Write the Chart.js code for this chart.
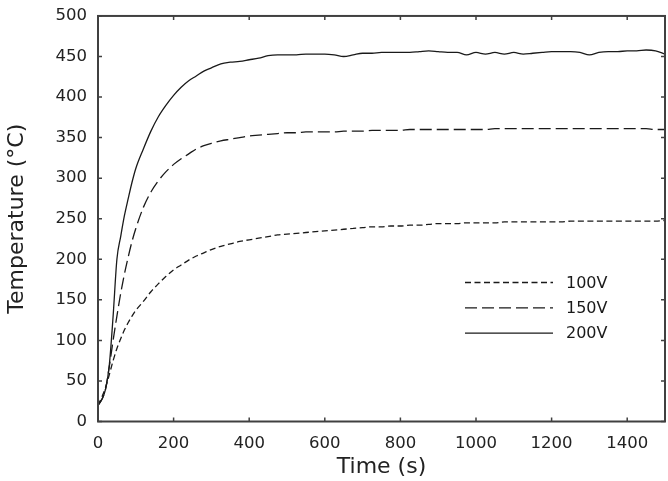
<!DOCTYPE html>
<html>
<head>
<meta charset="utf-8">
<script src="https://cdn.jsdelivr.net/npm/chart.js@4.4.1/dist/chart.umd.min.js"></script>
<style>
  html, body { margin: 0; padding: 0; background: #fff; }
  #caixa { width: 668px; height: 481px; }
</style>
</head>
<body>
<div id="caixa"><canvas id="graficoTemp"></canvas></div>
<script>
// tempo (s)
const tempos = [0, 10, 20, 30, 40, 50, 60, 70, 80, 90, 100,
  120, 140, 160, 180, 200, 220, 240, 260, 280, 300,
  325, 350, 375, 400, 425, 450, 475, 500, 525, 550, 575, 600,
  625, 650, 675, 700, 725, 750, 775, 800, 825, 850, 875, 900,
  925, 950, 975, 1000, 1025, 1050, 1075, 1100, 1125, 1150, 1175, 1200,
  1225, 1250, 1275, 1300, 1325, 1350, 1375, 1400, 1425, 1450, 1475, 1500];

// temperatura (°C) por tensão
const temp100V = [20, 30, 42, 58, 75, 90, 102, 113, 122, 130, 137,
  148, 160, 170, 179, 187, 193, 199, 204, 208, 212,
  216, 219, 222, 224, 226, 228, 230, 231, 232, 233, 234, 235,
  236, 237, 238, 239, 240, 240, 241, 241, 242, 242, 243, 244,
  244, 244, 245, 245, 245, 245, 246, 246, 246, 246, 246, 246,
  246, 247, 247, 247, 247, 247, 247, 247, 247, 247, 247, 248];

const temp150V = [20, 27, 40, 68, 100, 130, 158, 182, 203, 222, 238,
  264, 283, 297, 308, 317, 324, 330, 336, 340, 343,
  346, 348, 350, 352, 353, 354, 355, 356, 356, 357, 357, 357,
  357, 358, 358, 358, 359, 359, 359, 359, 360, 360, 360, 360,
  360, 360, 360, 360, 360, 361, 361, 361, 361, 361, 361, 361,
  361, 361, 361, 361, 361, 361, 361, 361, 361, 361, 360, 360];

const temp200V = [20, 27, 40, 70, 130, 200, 228, 254, 275, 295, 312,
  336, 358, 376, 390, 402, 412, 420, 426, 432, 436,
  441, 443, 444, 446, 448, 451, 452, 452, 452, 453, 453, 453,
  452, 450, 452, 454, 454, 455, 455, 455, 455, 456, 457, 456,
  455, 455, 452, 455, 453, 455, 453, 455, 453, 454, 455, 456,
  456, 456, 455, 452, 455, 456, 456, 457, 457, 458, 457, 453];

const rotulosSerie = ['100V', '150V', '200V'];
const ticksTempo = [0, 200, 400, 600, 800, 1000, 1200, 1400];
const tracos = [[6, 3.5], [12, 5], []];

const pares = (ys) => tempos.map((t, i) => ({ x: t, y: ys[i] }));

// moldura com marcas para dentro nos quatro lados
const moldura = {
  id: 'moldura',
  afterDatasetsDraw(chart) {
    const { ctx, chartArea: a, scales } = chart;
    ctx.save();
    ctx.strokeStyle = '#404040';
    ctx.lineWidth = 1.5;
    const m = 4;
    ctx.beginPath();
    scales.x.ticks.forEach(t => {
      const px = scales.x.getPixelForValue(t.value);
      ctx.moveTo(px, a.bottom); ctx.lineTo(px, a.bottom - m);
      ctx.moveTo(px, a.top); ctx.lineTo(px, a.top + m);
    });
    scales.y.ticks.forEach(t => {
      const py = scales.y.getPixelForValue(t.value);
      ctx.moveTo(a.left, py); ctx.lineTo(a.left + m, py);
      ctx.moveTo(a.right, py); ctx.lineTo(a.right - m, py);
    });
    ctx.stroke();
    ctx.lineWidth = 2;
    ctx.strokeRect(a.left, a.top, a.right - a.left, a.bottom - a.top);

    // legenda dentro da área
    ctx.font = '16px "DejaVu Sans"';
    ctx.textBaseline = 'middle';
    ctx.fillStyle = '#1a1a1a';
    chart.data.datasets.forEach((ds, i) => {
      const y = a.bottom - 139 + i * 25.3;
      const x0 = a.left + 367;
      ctx.strokeStyle = ds.borderColor;
      ctx.lineWidth = ds.borderWidth;
      ctx.setLineDash(ds.borderDash);
      ctx.beginPath();
      ctx.moveTo(x0, y); ctx.lineTo(x0 + 88, y);
      ctx.stroke();
      ctx.setLineDash([]);
      ctx.fillText(ds.label, x0 + 101, y + 1);
    });
    ctx.restore();
  }
};

const series = [temp100V, temp150V, temp200V];

new Chart(document.getElementById('graficoTemp'), {
  type: 'scatter',
  data: {
    datasets: series.map((s, i) => ({
      label: rotulosSerie[i],
      data: pares(s),
      showLine: true,
      borderColor: '#1a1a1a',
      borderWidth: 1.3,
      borderDash: tracos[i],
      pointRadius: 0,
      cubicInterpolationMode: 'monotone'
    }))
  },
  options: {
    responsive: true,
    maintainAspectRatio: false,
    animation: false,
    layout: { padding: { top: 12, right: 3, left: 0, bottom: 0 } },
    plugins: { legend: { display: false }, tooltip: { enabled: false } },
    scales: {
      x: {
        type: 'linear',
        min: 0,
        max: 1500,
        afterBuildTicks: s => { s.ticks = ticksTempo.map(v => ({ value: v })); },
        afterFit: s => { s.height = 59.5; },
        grid: { display: false, drawTicks: false },
        border: { display: false },
        ticks: { padding: 12, color: '#222', font: { family: 'DejaVu Sans', size: 16.5 },
          callback: v => String(v) },
        title: { display: true, text: 'Time (s)', color: '#222', padding: { top: 0, bottom: 1 },
          font: { family: 'DejaVu Sans', size: 22 } }
      },
      y: {
        min: 0,
        max: 500,
        afterFit: s => { s.width = 98; },
        grid: { display: false, drawTicks: false },
        border: { display: false },
        ticks: { stepSize: 50, padding: 11, color: '#222',
          font: { family: 'DejaVu Sans', size: 16.5, lineHeight: 0.6 } },
        title: { display: true, text: 'Temperature (°C)', color: '#222', padding: { top: 4, bottom: 0 },
          font: { family: 'DejaVu Sans', size: 22 } }
      }
    }
  },
  plugins: [moldura]
});
</script>
</body>
</html>
